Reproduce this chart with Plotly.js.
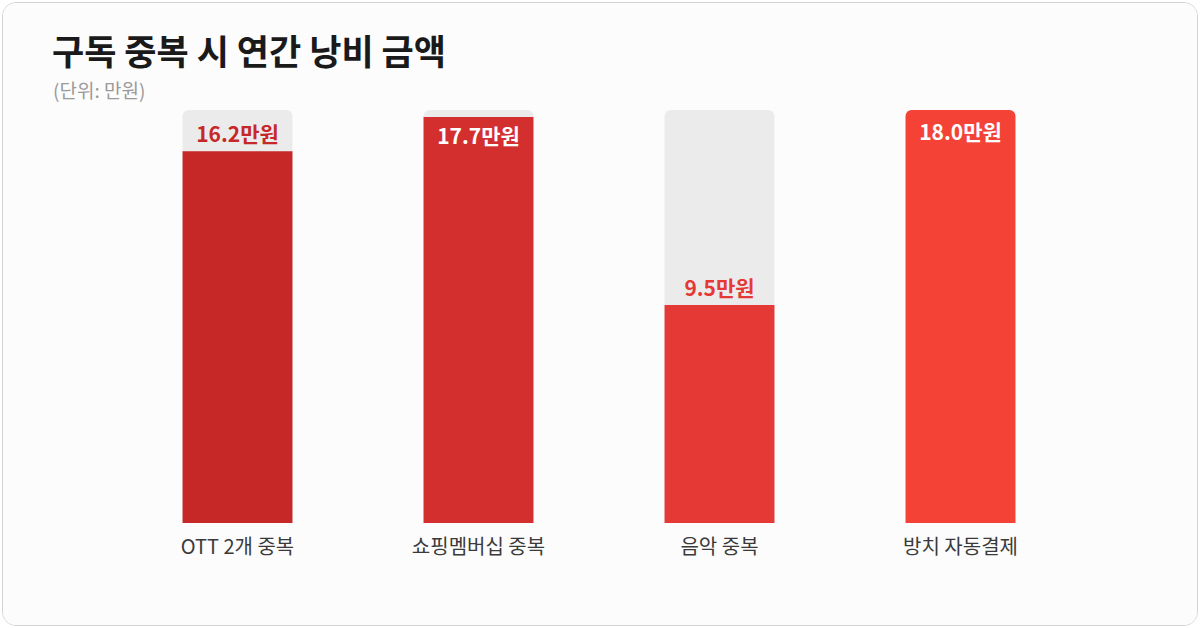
<!DOCTYPE html>
<html>
<head>
<meta charset="utf-8">
<script src="https://cdn.plot.ly/plotly-3.0.1.min.js"></script>
<style>
  html, body { margin: 0; padding: 0; background: #ffffff; }
  #card {
    position: absolute; left: 2px; top: 2px;
    width: 1194px; height: 622px;
    border: 1px solid #d4d4d4; border-radius: 14px;
    background: #fcfcfc; overflow: hidden;
  }
  #chart { width: 1194px; height: 622px; }
</style>
</head>
<body>
<div id="card"><div id="chart"></div></div>
<script>
// Subscription overlap waste chart -------------------------------------------
const categories = ['OTT 2개 중복', '쇼핑멤버십 중복', '음악 중복', '방치 자동결제'];
const amounts = [16.2, 17.7, 9.5, 18.0];
const barColors = ['#c62828', '#d32f2f', '#e53935', '#f44336'];
const trackMax = 18;
const labelFont = '"Noto Sans CJK KR", "Noto Sans", sans-serif';

// labels sit above the bar unless it reaches the top of the track
const positions = amounts.map(v => (v > 17 ? 'inside' : 'outside'));
const labelColors = amounts.map((v, i) => (v > 17 ? '#ffffff' : barColors[i]));

const track = {
    type: 'bar', x: categories, y: categories.map(() => trackMax),
    marker: { color: '#ebebeb' }, width: 0.456,
    hoverinfo: 'skip', showlegend: false,
};
const bars = {
    type: 'bar', x: categories, y: amounts,
    marker: { color: barColors }, width: 0.456,
    text: amounts.map(v => `${v.toFixed(1)}만원`),
    textposition: positions, insidetextanchor: 'end',
    textfont: { family: labelFont, size: 21, color: labelColors, weight: 700 },
    cliponaxis: false, constraintext: 'none',
    hovertemplate: '%{x}<br>%{y:.1f}만원<extra></extra>',
    showlegend: false,
};

const plotW = 1194, plotH = 622;
const layout = {
    width: plotW, height: plotH,
    paper_bgcolor: '#fcfcfc', plot_bgcolor: '#fcfcfc',
    font: { family: labelFont, color: '#333' },
    margin: { l: 114, r: 116, t: 107, b: 102, pad: 0 },
    barmode: 'overlay', barcornerradius: 6,
    title: {
        text: '<b>구독 중복 시 연간 낭비 금액</b>',
        font: { family: labelFont, size: 35, color: '#1a1a1a' },
        xref: 'container', x: 49 / plotW, xanchor: 'left',
        yref: 'container', y: 1 - 50 / plotH, yanchor: 'middle',
    },
    annotations: [{
        text: '(단위: 만원)', showarrow: false,
        xref: 'paper', yref: 'paper',
        x: (48 - 114) / (plotW - 114 - 116), xanchor: 'left',
        y: 1 + (107 - 87) / (plotH - 107 - 102), yanchor: 'middle',
        font: { family: labelFont, size: 19, color: '#9a9a9a' },
    }],
    xaxis: {
        showgrid: false, zeroline: false, showline: false, ticks: '',
        ticklabelstandoff: 10,
        tickfont: { family: labelFont, size: 20, color: '#3a3a3a' },
    },
    yaxis: {
        range: [0, trackMax], visible: false, showgrid: false, zeroline: false, fixedrange: true,
    },
};

Plotly.newPlot('chart', [track, bars], layout, { displayModeBar: false, staticPlot: true });
</script>
</body>
</html>
